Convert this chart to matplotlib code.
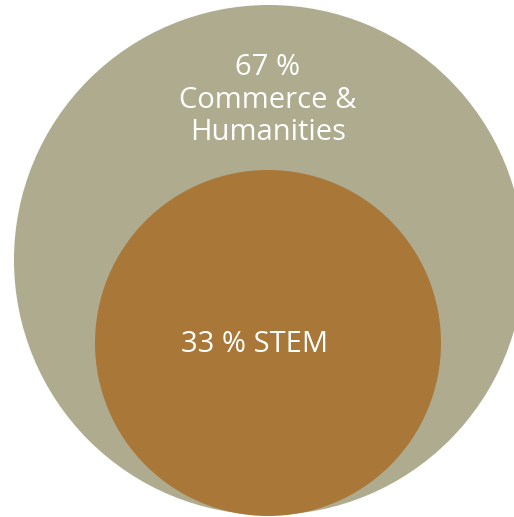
import matplotlib.pyplot as plt
from matplotlib.patches import Circle

groups = ['Commerce &\nHumanities', 'STEM']
shares = [67, 33]
colors = ['#aeab8f', '#a97838']

# layout in pixel units (x right, y down)
centers = [(269, 260), (268, 343)]
radii = [255, 173]
label_pos = [(268, 100), (255, 345)]

fig = plt.figure(figsize=(5.14, 5.17), dpi=100)
ax = fig.add_axes([0, 0, 1, 1])
ax.set_xlim(0, 514)
ax.set_ylim(517, 0)
ax.set_aspect('equal')
ax.axis('off')

for c, r, col in zip(centers, radii, colors):
    ax.add_patch(Circle(c, r, facecolor=col, edgecolor='none'))

big_txt = '%d %%\n%s' % (shares[0], groups[0])
small_txt = '%d %% %s' % (shares[1], groups[1])
ax.text(*label_pos[0], big_txt, ha='center', va='center', color='white',
        fontsize=21, family='Open Sans', linespacing=1.17)
ax.text(*label_pos[1], small_txt, ha='center', va='center', color='white',
        fontsize=21, family='Open Sans')

fig.savefig('out.png', dpi=100)
